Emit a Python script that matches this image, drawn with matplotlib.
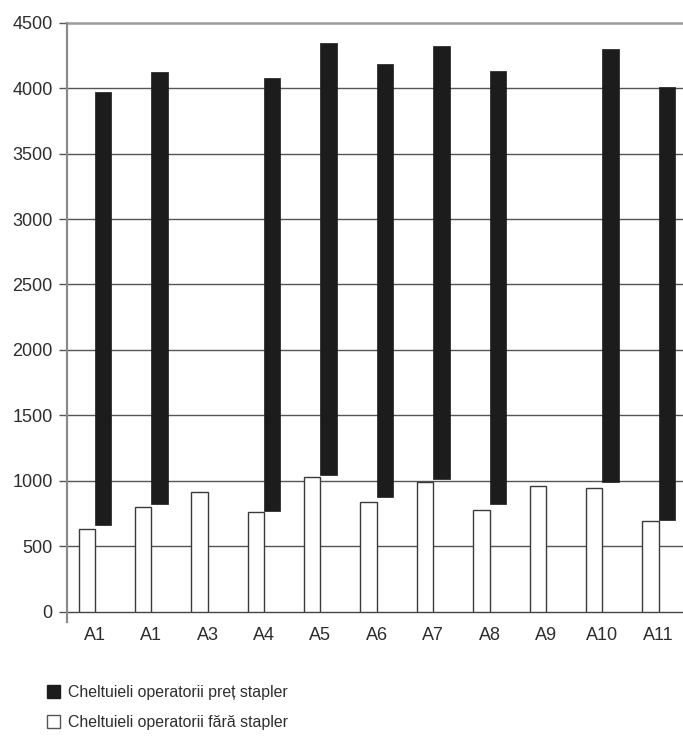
import numpy as np
import matplotlib
matplotlib.use("Agg")
import matplotlib.pyplot as plt
from matplotlib.patches import Patch

plt.rcParams['font.family'] = ['Liberation Sans', 'DejaVu Sans']

categories = ['A1', 'A1', 'A3', 'A4', 'A5', 'A6', 'A7', 'A8', 'A9', 'A10', 'A11']
fara_stapler = [632, 800, 917, 759, 1031, 840, 993, 779, 960, 943, 693]
# black bars float: bottom and top (nan = no bar)
stapler_jos = [662, 820, np.nan, 769, 1042, 874, 1014, 825, np.nan, 988, 698]
stapler_sus = [3968, 4125, np.nan, 4080, 4347, 4182, 4324, 4131, np.nan, 4296, 4006]
yticks = [0, 500, 1000, 1500, 2000, 2500, 3000, 3500, 4000, 4500]

label_pret = 'Cheltuieli operatorii preț stapler'
label_fara = 'Cheltuieli operatorii fără stapler'

fig = plt.figure(figsize=(6.83, 7.52), dpi=100)
ax = fig.add_axes([0.0977, 0.1866, 0.9023, 0.7832])

x = np.arange(len(categories))
w = 0.29
low = np.array(stapler_jos)
high = np.array(stapler_sus)

for yv in yticks[1:-1]:
    ax.axhline(yv, color='#555555', lw=1.0, zorder=1)
ax.axhline(4500, color='#9a9a9a', lw=1.8, zorder=1, clip_on=False)

ax.bar(x - w / 2, fara_stapler, width=w, color='white', edgecolor='#3a3a3a',
       lw=1.0, zorder=3)
ax.bar(x + w / 2, high - low, bottom=low, width=w, color='#1c1c1c',
       edgecolor='#1c1c1c', lw=0.5, zorder=3)

ax.set_xlim(-0.5, 10.43)
ax.set_ylim(0, 4500)
ax.set_yticks(yticks)
ax.set_xticks(x)
ax.set_xticklabels(categories)
for s in ['top', 'right', 'left']:
    ax.spines[s].set_visible(False)
ax.spines['bottom'].set_color('#444444')
ax.spines['bottom'].set_linewidth(1.0)
ax.plot([-0.5, -0.5], [-80, 4500], color='#8a8a8a', lw=1.6, clip_on=False,
        zorder=4)
ax.tick_params(axis='y', length=6, width=1.0, color='#555555', pad=4,
               labelsize=13, labelcolor='#2e2e2e')
ax.tick_params(axis='x', length=0, pad=11, labelsize=13,
               labelcolor='#2e2e2e')

handles = [Patch(facecolor='#1c1c1c', edgecolor='#1c1c1c', label=label_pret),
           Patch(facecolor='white', edgecolor='#555555', label=label_fara)]
fig.legend(handles=handles, loc='upper left', bbox_to_anchor=(0.057, 0.1),
           frameon=False, fontsize=11.4, handlelength=0.85, handleheight=0.85,
           handletextpad=0.5, labelspacing=0.95, borderpad=0,
           labelcolor='#2e2e2e')

fig.savefig('out.png', dpi=100)
